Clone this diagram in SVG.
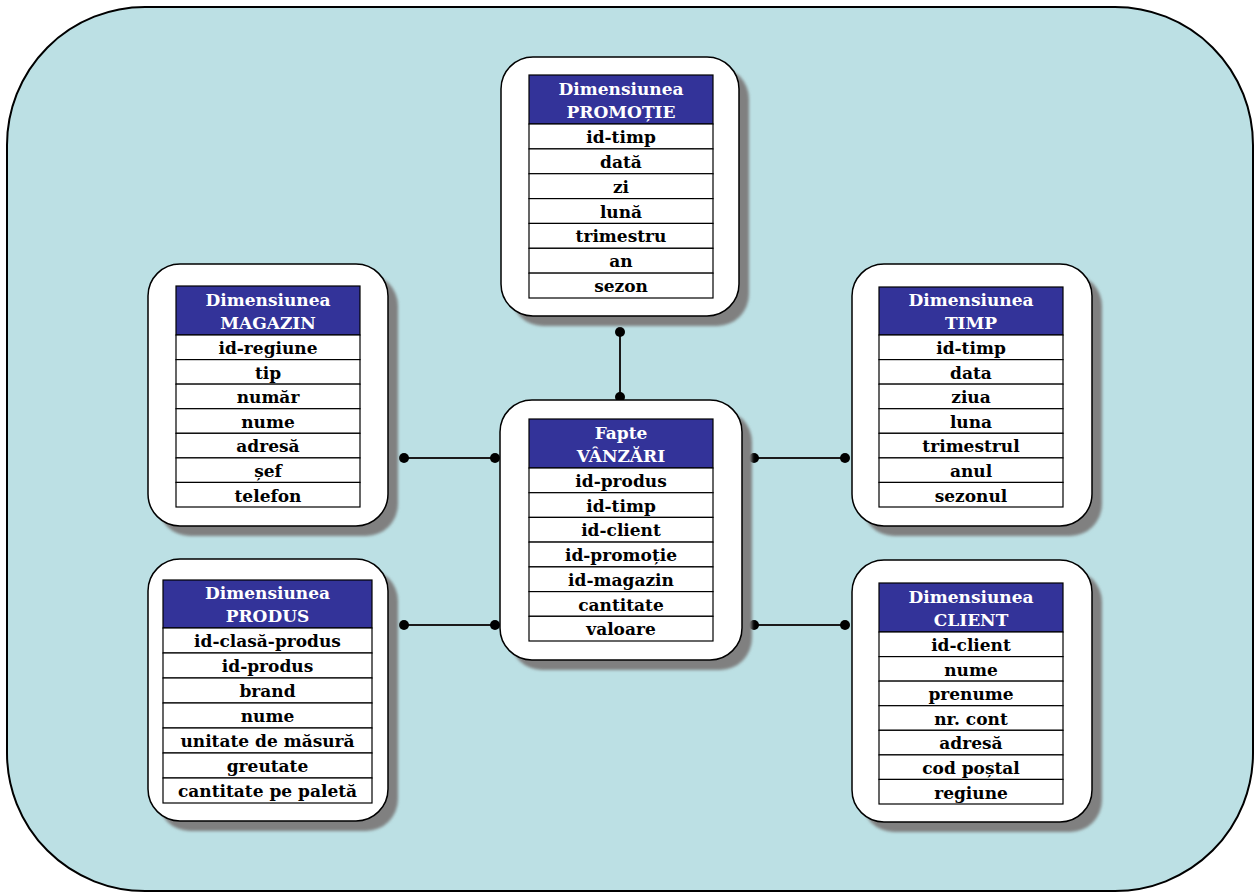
<svg xmlns="http://www.w3.org/2000/svg" width="1255" height="892" viewBox="0 0 1255 892">
<style>
.card{fill:#ffffff;stroke:#000000;stroke-width:1.5}
.shadow{fill:#808080}
.hdr{fill:#333399;stroke:#000000;stroke-width:1.2}
.row{fill:#ffffff;stroke:#000000;stroke-width:1.2}
.ht{font-family:"DejaVu Serif","Liberation Serif",serif;font-weight:bold;font-size:17px;fill:#ffffff;text-anchor:middle}
.rt{font-family:"DejaVu Serif","Liberation Serif",serif;font-weight:bold;font-size:17px;fill:#000000;text-anchor:middle}
.ln{stroke:#1a1a1a;stroke-width:2;fill:none}
.dot{fill:#000000}
</style>
<defs>
<filter id="blur" x="-10%" y="-10%" width="120%" height="120%"><feGaussianBlur stdDeviation="1.5"/></filter>
</defs>
<rect x="7" y="7" width="1246" height="884" rx="138" ry="138" fill="#BCE0E4" stroke="#000000" stroke-width="2"/>

<g id="connectors">
<line class="ln" x1="620" y1="332" x2="620" y2="397" stroke="#2F4F4F"/>
<circle class="dot" cx="620" cy="332" r="5"/><circle class="dot" cx="620" cy="397" r="5"/>
<line class="ln" x1="404" y1="458" x2="495" y2="458"/>
<circle class="dot" cx="404" cy="458" r="5"/><circle class="dot" cx="495" cy="458" r="5"/>
<line class="ln" x1="404" y1="625" x2="495" y2="625"/>
<circle class="dot" cx="404" cy="625" r="5"/><circle class="dot" cx="495" cy="625" r="5"/>
<line class="ln" x1="754" y1="458" x2="845" y2="458"/>
<circle class="dot" cx="754" cy="458" r="5"/><circle class="dot" cx="845" cy="458" r="5"/>
<line class="ln" x1="754" y1="625" x2="845" y2="625"/>
<circle class="dot" cx="754" cy="625" r="5"/><circle class="dot" cx="845" cy="625" r="5"/>
</g>

<g id="promotie">
<rect class="shadow" x="511" y="67" width="238" height="259" rx="32" filter="url(#blur)"/>
<rect class="card" x="501" y="57" width="238" height="259" rx="32"/>
<rect class="hdr" x="529" y="75" width="184" height="49"/>
<text class="ht" x="621" y="95">Dimensiunea</text>
<text class="ht" x="621" y="118">PROMOȚIE</text>
<rect class="row" x="529" y="124" width="184" height="24.9"/>
<rect class="row" x="529" y="148.9" width="184" height="24.9"/>
<rect class="row" x="529" y="173.7" width="184" height="24.9"/>
<rect class="row" x="529" y="198.6" width="184" height="24.9"/>
<rect class="row" x="529" y="223.4" width="184" height="24.9"/>
<rect class="row" x="529" y="248.3" width="184" height="24.9"/>
<rect class="row" x="529" y="273.1" width="184" height="24.9"/>
<text class="rt" x="621" y="142.5">id-timp</text>
<text class="rt" x="621" y="167.5">dată</text>
<text class="rt" x="621" y="192.5">zi</text>
<text class="rt" x="621" y="217.5">lună</text>
<text class="rt" x="621" y="241.5">trimestru</text>
<text class="rt" x="621" y="266.5">an</text>
<text class="rt" x="621" y="291.5">sezon</text>
</g>

<g id="magazin">
<rect class="shadow" x="158" y="274" width="240" height="262" rx="32" filter="url(#blur)"/>
<rect class="card" x="148" y="264" width="240" height="262" rx="32"/>
<rect class="hdr" x="176" y="286" width="184" height="49"/>
<text class="ht" x="268" y="306">Dimensiunea</text>
<text class="ht" x="268" y="329">MAGAZIN</text>
<rect class="row" x="176" y="335" width="184" height="24.6"/>
<rect class="row" x="176" y="359.6" width="184" height="24.6"/>
<rect class="row" x="176" y="384.1" width="184" height="24.6"/>
<rect class="row" x="176" y="408.7" width="184" height="24.6"/>
<rect class="row" x="176" y="433.3" width="184" height="24.6"/>
<rect class="row" x="176" y="457.9" width="184" height="24.6"/>
<rect class="row" x="176" y="482.4" width="184" height="24.6"/>
<text class="rt" x="268" y="353.5">id-regiune</text>
<text class="rt" x="268" y="378.5">tip</text>
<text class="rt" x="268" y="402.5">număr</text>
<text class="rt" x="268" y="427.5">nume</text>
<text class="rt" x="268" y="451.5">adresă</text>
<text class="rt" x="268" y="476.5">șef</text>
<text class="rt" x="268" y="501.5">telefon</text>
</g>

<g id="vanzari">
<rect class="shadow" x="510" y="410" width="242" height="260" rx="32" filter="url(#blur)"/>
<rect class="card" x="500" y="400" width="242" height="260" rx="32"/>
<rect class="hdr" x="529" y="419" width="184" height="49"/>
<text class="ht" x="621" y="439">Fapte</text>
<text class="ht" x="621" y="462">VÂNZĂRI</text>
<rect class="row" x="529" y="468" width="184" height="24.7"/>
<rect class="row" x="529" y="492.7" width="184" height="24.7"/>
<rect class="row" x="529" y="517.4" width="184" height="24.7"/>
<rect class="row" x="529" y="542.1" width="184" height="24.7"/>
<rect class="row" x="529" y="566.9" width="184" height="24.7"/>
<rect class="row" x="529" y="591.6" width="184" height="24.7"/>
<rect class="row" x="529" y="616.3" width="184" height="24.7"/>
<text class="rt" x="621" y="486.5">id-produs</text>
<text class="rt" x="621" y="511.5">id-timp</text>
<text class="rt" x="621" y="535.5">id-client</text>
<text class="rt" x="621" y="560.5">id-promoție</text>
<text class="rt" x="621" y="585.5">id-magazin</text>
<text class="rt" x="621" y="610.5">cantitate</text>
<text class="rt" x="621" y="634.5">valoare</text>
</g>

<g id="timp">
<rect class="shadow" x="862" y="274" width="240" height="262" rx="32" filter="url(#blur)"/>
<rect class="card" x="852" y="264" width="240" height="262" rx="32"/>
<rect class="hdr" x="879" y="287" width="184" height="48"/>
<text class="ht" x="971" y="306">Dimensiunea</text>
<text class="ht" x="971" y="329">TIMP</text>
<rect class="row" x="879" y="335" width="184" height="24.6"/>
<rect class="row" x="879" y="359.6" width="184" height="24.6"/>
<rect class="row" x="879" y="384.1" width="184" height="24.6"/>
<rect class="row" x="879" y="408.7" width="184" height="24.6"/>
<rect class="row" x="879" y="433.3" width="184" height="24.6"/>
<rect class="row" x="879" y="457.9" width="184" height="24.6"/>
<rect class="row" x="879" y="482.4" width="184" height="24.6"/>
<text class="rt" x="971" y="353.5">id-timp</text>
<text class="rt" x="971" y="378.5">data</text>
<text class="rt" x="971" y="402.5">ziua</text>
<text class="rt" x="971" y="427.5">luna</text>
<text class="rt" x="971" y="451.5">trimestrul</text>
<text class="rt" x="971" y="476.5">anul</text>
<text class="rt" x="971" y="501.5">sezonul</text>
</g>

<g id="produs">
<rect class="shadow" x="158" y="569" width="240" height="262" rx="32" filter="url(#blur)"/>
<rect class="card" x="148" y="559" width="240" height="262" rx="32"/>
<rect class="hdr" x="163" y="580" width="209" height="48"/>
<text class="ht" x="267.5" y="599">Dimensiunea</text>
<text class="ht" x="267.5" y="622">PRODUS</text>
<rect class="row" x="163" y="628" width="209" height="25"/>
<rect class="row" x="163" y="653" width="209" height="25"/>
<rect class="row" x="163" y="678" width="209" height="25"/>
<rect class="row" x="163" y="703" width="209" height="25"/>
<rect class="row" x="163" y="728" width="209" height="25"/>
<rect class="row" x="163" y="753" width="209" height="25"/>
<rect class="row" x="163" y="778" width="209" height="25"/>
<text class="rt" x="267.5" y="646.5">id-clasă-produs</text>
<text class="rt" x="267.5" y="671.5">id-produs</text>
<text class="rt" x="267.5" y="696.5">brand</text>
<text class="rt" x="267.5" y="721.5">nume</text>
<text class="rt" x="267.5" y="746.5">unitate de măsură</text>
<text class="rt" x="267.5" y="771.5">greutate</text>
<text class="rt" x="267.5" y="796.5">cantitate pe paletă</text>
</g>

<g id="client">
<rect class="shadow" x="862" y="570" width="240" height="262" rx="32" filter="url(#blur)"/>
<rect class="card" x="852" y="560" width="240" height="262" rx="32"/>
<rect class="hdr" x="879" y="583" width="184" height="49"/>
<text class="ht" x="971" y="603">Dimensiunea</text>
<text class="ht" x="971" y="626">CLIENT</text>
<rect class="row" x="879" y="632" width="184" height="24.6"/>
<rect class="row" x="879" y="656.6" width="184" height="24.6"/>
<rect class="row" x="879" y="681.1" width="184" height="24.6"/>
<rect class="row" x="879" y="705.7" width="184" height="24.6"/>
<rect class="row" x="879" y="730.3" width="184" height="24.6"/>
<rect class="row" x="879" y="754.9" width="184" height="24.6"/>
<rect class="row" x="879" y="779.4" width="184" height="24.6"/>
<text class="rt" x="971" y="650.5">id-client</text>
<text class="rt" x="971" y="675.5">nume</text>
<text class="rt" x="971" y="699.5">prenume</text>
<text class="rt" x="971" y="724.5">nr. cont</text>
<text class="rt" x="971" y="748.5">adresă</text>
<text class="rt" x="971" y="773.5">cod poștal</text>
<text class="rt" x="971" y="798.5">regiune</text>
</g>
</svg>
